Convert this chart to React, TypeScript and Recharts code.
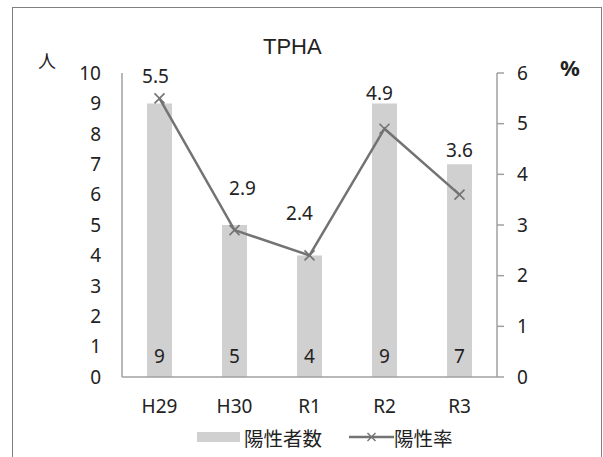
import React from 'react';
import { ComposedChart, Bar, Line, XAxis, YAxis, LabelList } from 'recharts';

// 年度別 TPHA 陽性者数・陽性率
const years = ['H29', 'H30', 'R1', 'R2', 'R3'];
const positiveCounts = [9, 5, 4, 9, 7];
const positiveRates = [5.5, 2.9, 2.4, 4.9, 3.6];
const countTicks = [0, 1, 2, 3, 4, 5, 6, 7, 8, 9, 10];
const rateTicks = [0, 1, 2, 3, 4, 5, 6];

// 率ラベルの位置ずらし（見た目用）
const rateLabelDx = [-4, 8, -10, -5, 0];
const rateLabelDy = [-22, -42, -42, -36, -45];

const data = years.map((y, i) => ({ year: y, count: positiveCounts[i], rate: positiveRates[i] }));

const NUM_FONT = '"Noto Sans", sans-serif';
const JP_FONT = '"Noto Sans CJK JP", sans-serif';
const TEXT = '#222';
const BAR = '#d0d0d0';
const LINE = '#737373';
const AXIS = '#a0a0a0';

function CrossDot(props: any) {
  const { cx, cy } = props;
  if (cx == null || cy == null) return null;
  const s = 5;
  return (
    <g stroke={LINE} strokeWidth={1.6}>
      <line x1={cx - s} y1={cy - s} x2={cx + s} y2={cy + s} />
      <line x1={cx - s} y1={cy + s} x2={cx + s} y2={cy - s} />
    </g>
  );
}

function RateLabel(props: any) {
  const { x, y, value, index } = props;
  return (
    <text
      x={x + rateLabelDx[index]}
      y={y + rateLabelDy[index]}
      textAnchor="middle"
      dominantBaseline="central"
      fontSize={19}
      fontFamily={NUM_FONT}
      fill={TEXT}
    >
      {value}
    </text>
  );
}

export default function App() {
  const tick = { fontSize: 19, fill: TEXT, fontFamily: NUM_FONT };
  return (
    <div style={{ position: 'absolute', left: 0, top: 0, width: 603, height: 457, overflow: 'hidden', background: '#fff' }}>
      <div
        style={{
          position: 'absolute',
          left: 12,
          top: 7,
          width: 588,
          height: 470,
          border: '1px solid #808080',
        }}
      />
      <div
        style={{
          position: 'absolute',
          left: 0,
          width: 603,
          top: 33,
          paddingLeft: 0,
          textAlign: 'center',
          fontFamily: '"Liberation Sans", Arial, sans-serif',
          fontSize: 22,
          lineHeight: '28px',
          color: TEXT,
        }}
      >
        <span style={{ position: 'absolute', left: 263 }}>TPHA</span>
      </div>
      <div
        style={{ position: 'absolute', left: 38, top: 48, fontFamily: JP_FONT, fontSize: 18, lineHeight: '24px', color: TEXT }}
      >
        人
      </div>
      <div
        style={{ position: 'absolute', left: 560, top: 53, fontFamily: NUM_FONT, fontWeight: 700, fontSize: 22, lineHeight: '28px', color: TEXT }}
      >
        %
      </div>

      <div style={{ position: 'absolute', left: 0, top: 0 }}>
        <ComposedChart width={603} height={457} data={data} margin={{ top: 73, right: 46, bottom: 50, left: 42 }}>
          <XAxis
            dataKey="year"
            axisLine={{ stroke: AXIS, strokeWidth: 1.5 }}
            tickLine={false}
            tickSize={0}
            tickMargin={23}
            height={30}
            tick={tick}
            interval={0}
          />
          <YAxis
            yAxisId="left"
            domain={[0, 10]}
            ticks={countTicks}
            interval={0}
            width={80}
            axisLine={{ stroke: AXIS, strokeWidth: 1.5 }}
            tickLine={false}
            tickSize={0}
            tickMargin={21}
            tick={tick}
          />
          <YAxis
            yAxisId="right"
            orientation="right"
            domain={[0, 6]}
            ticks={rateTicks}
            interval={0}
            width={60}
            axisLine={{ stroke: AXIS, strokeWidth: 1.5 }}
            tickLine={{ stroke: AXIS, strokeWidth: 1.5 }}
            tickSize={7}
            tickMargin={13}
            tick={tick}
          />
          <Bar yAxisId="left" dataKey="count" fill={BAR} barSize={25} isAnimationActive={false}>
            <LabelList
              dataKey="count"
              position="insideBottom"
              offset={14}
              style={{ fontSize: 19, fill: TEXT, fontFamily: NUM_FONT }}
            />
          </Bar>
          <Line
            yAxisId="right"
            dataKey="rate"
            stroke={LINE}
            strokeWidth={2.5}
            dot={<CrossDot />}
            activeDot={false}
            isAnimationActive={false}
          >
            <LabelList dataKey="rate" content={<RateLabel />} />
          </Line>
        </ComposedChart>
      </div>

      <div
        style={{
          position: 'absolute',
          left: 197,
          top: 424,
          height: 26,
          display: 'flex',
          alignItems: 'center',
          fontFamily: JP_FONT,
          fontSize: 19.5,
          color: TEXT,
          whiteSpace: 'nowrap',
        }}
      >
        <span style={{ display: 'inline-block', width: 43, height: 10, background: BAR, marginRight: 4 }} />
        <span>陽性者数</span>
        <svg width={45} height={14} style={{ marginLeft: 27, marginRight: 0 }}>
          <line x1={0} y1={7} x2={45} y2={7} stroke={LINE} strokeWidth={2.5} />
          <line x1={18.5} y1={3} x2={26.5} y2={11} stroke={LINE} strokeWidth={1.5} />
          <line x1={18.5} y1={11} x2={26.5} y2={3} stroke={LINE} strokeWidth={1.5} />
        </svg>
        <span>陽性率</span>
      </div>
    </div>
  );
}
